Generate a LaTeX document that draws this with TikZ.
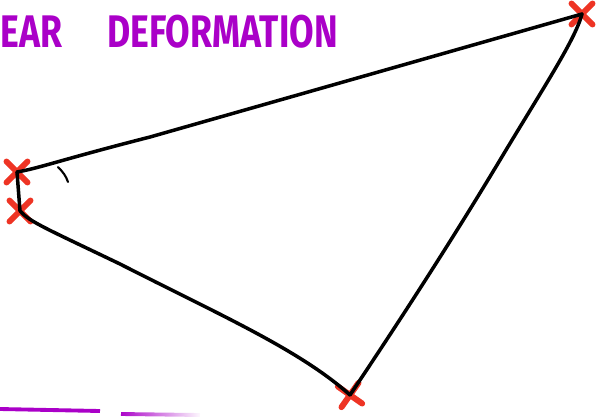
\documentclass[tikz,border=0pt]{standalone}
\usepackage{fontspec}
\setsansfont{Fira Sans}
\usetikzlibrary{shapes.misc,fadings}
\definecolor{ink}{RGB}{0,0,0}
\definecolor{mark}{RGB}{238,52,36}
\definecolor{title}{RGB}{170,0,200}

\begin{document}
\begin{tikzpicture}[x=0.02cm, y=-0.02cm]
  \tikzstyle{pt}=[cross out, draw=mark, line width=3.4pt, minimum size=0.3cm, inner sep=0pt, line cap=round]
  \tikzstyle{edge}=[draw=ink, line width=2pt, line cap=round]
  \tikzstyle{head}=[text=title, font=\sffamily\bfseries\fontsize{26}{26}\selectfont, inner sep=0pt, anchor=west]
  \useasboundingbox (0,0) rectangle (597,416);
  % title
  \node[head, xscale=0.78] (t1) at (0,32) {EAR};
  \node[head, xscale=0.78] (t2) at (107,32) {DEFORMATION};
  % corner points
  \node[pt] (a) at (17,172) {};
  \node[pt] (b) at (20,211) {};
  \node[pt, rotate=10] (c) at (350,395) {};
  \node[pt] (d) at (582,14) {};
  % sides
  \draw[edge] (a.center) -- (b.center);
  \draw[edge] (a.center) .. controls (40,168) and (60,160) .. (150,137) -- (d.center);
  \draw[edge] (b.center) .. controls (30,222) and (45,228) .. (120,264) .. controls (220,315) and (300,350) .. (c.center);
  \draw[edge] (c.center) .. controls (380,350) and (440,260) .. (500,160) .. controls (545,85) and (575,40) .. (d.center);
  % angle tick
  \draw[edge, line width=1.2pt] (58,167) .. controls (63,172) and (66,176) .. (68,182);
  % underline
  \draw[title, line width=2.2pt] (0,409) -- (100,411);
  \draw[title, line width=2.2pt, path fading=east] (121,414) -- (200,415);
\end{tikzpicture}
\end{document}
